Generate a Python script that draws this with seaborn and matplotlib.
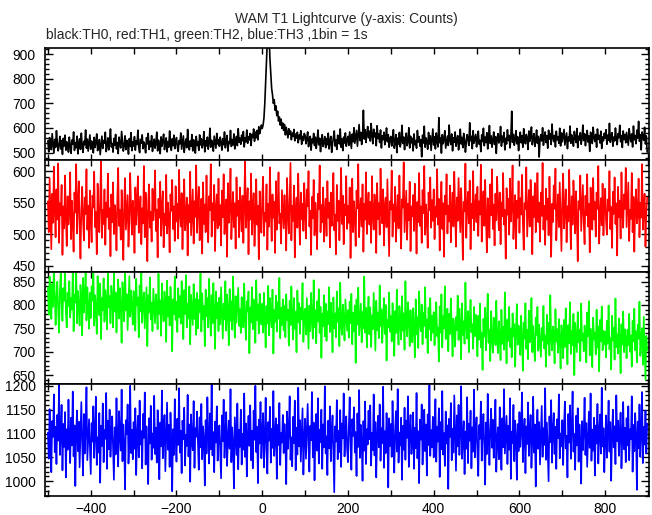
import numpy as np
import pandas as pd
import matplotlib
matplotlib.use("Agg")
import matplotlib.pyplot as plt
import seaborn as sns
from matplotlib.ticker import MultipleLocator

# time sampling of the transcribed light curves (seconds)
T_START = -500
BIN = 2

title = "WAM T1 Lightcurve (y-axis: Counts)"
subtitle = "black:TH0, red:TH1, green:TH2, blue:TH3 ,1bin = 1s"

th0 = [
    548, 503, 561, 529, 512, 577, 536, 498, 554, 521, 589, 540, 507, 532, 566, 515, 549, 493, 558, 527, 571, 510, 544, 536, 502,
    563, 525, 497, 551, 534, 584, 509, 541, 520, 567, 495, 538, 556, 513, 579, 527, 501, 546, 532, 592, 518, 555, 506, 539, 572,
    514, 547, 530, 499, 562, 521, 543, 576, 508, 535, 553, 492, 528, 567, 517, 549, 538, 583, 504, 526, 560, 511, 545, 596, 523,
    537, 502, 558, 529, 574, 515, 541, 496, 563, 532, 519, 586, 547, 506, 530, 568, 512, 550, 539, 494, 557, 525, 581, 508, 544,
    527, 565, 510, 548, 533, 591, 520, 500, 554, 538, 572, 516, 543, 529, 499, 561, 535, 578, 513, 546, 524, 569, 505, 537, 555,
    518, 540, 583, 507, 551, 531, 496, 564, 526, 548, 575, 512, 539, 560, 503, 545, 522, 588, 534, 509, 556, 528, 571, 516, 542,
    561, 523, 505, 549, 536, 580, 514, 542, 568, 501, 533, 555, 520, 594, 538, 511, 547, 526, 573, 507, 552, 535, 498, 566, 529,
    545, 509, 572, 531, 556, 519, 540, 585, 503, 548, 527, 563, 514, 537, 599, 522, 550, 532, 506, 567, 541, 518, 578, 535, 553,
    526, 563, 541, 510, 557, 532, 584, 519, 548, 570, 506, 544, 537, 590, 525, 553, 531, 576, 515, 549, 566, 528, 597, 542, 559,
    534, 571, 548, 586, 523, 560, 544, 592, 538, 565, 552, 578, 529, 574, 561, 596, 546, 583, 560, 590, 552, 605, 577, 593, 612,
    598, 612, 640, 700, 790, 870, 960, 945, 980, 880, 820, 760, 735, 700, 715, 672, 690, 650, 668, 628, 645, 612, 636, 598, 620,
    590, 614, 572, 603, 581, 560, 597, 574, 588, 552, 579, 566, 594, 548, 575, 559, 583, 540, 571, 556, 589, 534, 566, 549, 578,
    570, 536, 558, 584, 524, 551, 566, 510, 555, 540, 578, 529, 563, 517, 546, 592, 532, 558, 504, 550, 573, 525, 541, 565, 520,
    557, 532, 579, 515, 548, 566, 501, 537, 560, 588, 527, 552, 513, 571, 544, 535, 596, 522, 556, 508, 563, 539, 580, 526, 551,
    566, 529, 584, 552, 517, 575, 544, 601, 538, 563, 590, 526, 571, 614, 549, 582, 533, 567, 672, 555, 593, 541, 578, 606, 560,
    587, 547, 618, 569, 536, 595, 564, 580, 528, 609, 557, 575, 541, 592, 519, 568, 553, 583, 532, 562, 600, 544, 573, 522, 558,
    566, 527, 554, 593, 518, 541, 573, 500, 559, 535, 582, 523, 548, 611, 537, 563, 512, 556, 579, 528, 545, 601, 519, 567, 540,
    558, 507, 576, 532, 549, 518, 590, 543, 565, 526, 553, 483, 571, 539, 607, 522, 560, 546, 514, 582, 535, 568, 509, 554, 596,
    531, 564, 515, 580, 548, 523, 642, 540, 559, 498, 573, 536, 555, 589, 518, 544, 567, 529, 612, 551, 533, 576, 507, 560, 542,
    584, 526, 552, 569, 511, 543, 595, 535, 562, 520, 578, 554, 502, 541, 573, 557, 529, 621, 548, 566, 516, 589, 538, 555, 574,
    523, 560, 587, 534, 550, 504, 572, 545, 599, 528, 563, 541, 581, 515, 556, 610, 537, 568, 522, 551, 584, 533, 565, 497, 559,
    577, 539, 552, 606, 526, 567, 544, 582, 511, 558, 535, 593, 549, 570, 519, 561, 668, 542, 574, 530, 553, 589, 536, 564, 508,
    555, 583, 540, 569, 522, 597, 551, 536, 574, 560, 513, 588, 546, 565, 604, 532, 558, 577, 525, 549, 592, 538, 566, 482, 554,
    573, 547, 601, 530, 562, 584, 541, 568, 518, 591, 555, 576, 533, 616, 559, 545, 570, 523, 587, 552, 564, 538, 599, 527, 580,
    544, 569, 594, 531, 557, 580, 516, 563, 547, 608, 538, 572, 553, 526, 586, 560, 541, 598, 520, 567, 551, 581, 534, 559, 612,
    549, 576, 528, 562, 590, 543, 568, 505, 583, 556, 537, 603, 561, 545, 574, 522, 596, 554, 570, 539, 587, 517, 564, 548, 579,
    558, 593, 534, 571, 550, 619, 542, 566, 581, 526, 563, 548, 600, 555, 532, 577, 560, 611, 544, 569, 521, 588, 553, 574, 540,
    582, 557, 530, 597, 565, 544, 576, 523, 608, 552, 569, 536, 591, 559, 627, 546, 573, 511, 584, 562, 550, 603, 535, 568, 502,
]

th1 = [
    552, 503, 589, 531, 476, 564, 518, 607, 540, 495, 571, 523, 612, 486, 549, 530, 578, 467, 544, 509, 593, 526, 481, 560, 515,
    537, 598, 492, 553, 520, 472, 566, 534, 611, 501, 547, 584, 513, 461, 539, 575, 522, 490, 558, 532, 603, 507, 545, 478, 569,
    525, 487, 561, 542, 599, 511, 535, 468, 580, 529, 503, 556, 619, 494, 538, 516, 571, 483, 550, 527, 596, 508, 541, 465, 563,
    519, 582, 500, 546, 530, 474, 557, 605, 513, 538, 491, 570, 524, 459, 548, 589, 507, 533, 562, 480, 521, 597, 544, 499, 553,
    536, 470, 574, 515, 551, 592, 502, 528, 560, 484, 541, 517, 608, 495, 566, 531, 457, 549, 579, 510, 535, 488, 572, 522, 545,
    601, 505, 539, 463, 556, 526, 583, 497, 543, 568, 479, 532, 514, 594, 501, 550, 525, 471, 563, 537, 586, 508, 544, 489, 576,
    520, 548, 493, 602, 533, 512, 565, 476, 541, 587, 506, 529, 558, 466, 546, 519, 599, 498, 537, 571, 485, 552, 527, 609, 502,
    543, 575, 490, 531, 556, 469, 582, 516, 547, 503, 593, 524, 487, 560, 538, 611, 496, 549, 522, 578, 473, 540, 563, 509, 588,
    514, 546, 482, 569, 527, 595, 500, 538, 555, 464, 581, 518, 543, 604, 492, 533, 567, 511, 549, 477, 590, 529, 553, 495, 574,
    535, 504, 561, 486, 547, 616, 510, 539, 573, 468, 552, 523, 596, 499, 541, 565, 481, 530, 587, 515, 545, 460, 568, 527, 502,
    558, 591, 497, 534, 520, 579, 475, 548, 512, 606, 538, 489, 563, 526, 551, 470, 584, 507, 543, 598, 517, 532, 485, 570, 541,
    509, 562, 528, 474, 589, 536, 501, 554, 613, 490, 545, 521, 577, 463, 539, 558, 510, 596, 530, 483, 566, 524, 548, 505, 581,
    533, 493, 571, 544, 600, 512, 537, 467, 559, 525, 586, 498, 550, 529, 476, 564, 540, 609, 503, 546, 519, 574, 488, 535, 556,
    497, 584, 526, 550, 479, 566, 513, 542, 597, 506, 531, 468, 578, 521, 553, 490, 539, 605, 516, 561, 484, 547, 530, 592, 508,
    545, 518, 574, 462, 537, 588, 503, 552, 527, 481, 569, 541, 611, 495, 534, 557, 512, 579, 472, 548, 523, 598, 500, 540, 566,
    515, 551, 486, 592, 530, 507, 563, 543, 470, 581, 524, 549, 499, 604, 536, 517, 571, 482, 545, 558, 511, 587, 528, 465, 552,
    539, 601, 496, 547, 520, 575, 488, 531, 562, 509, 593, 526, 477, 555, 542, 614, 503, 537, 569, 491, 548, 522, 583, 473, 544,
    528, 562, 505, 580, 536, 469, 551, 519, 597, 513, 544, 486, 570, 533, 608, 499, 547, 525, 478, 566, 538, 590, 510, 554, 521,
    571, 492, 543, 527, 603, 515, 556, 474, 537, 583, 508, 549, 464, 561, 532, 595, 501, 545, 520, 577, 487, 540, 566, 512, 599,
    534, 480, 558, 521, 589, 546, 503, 573, 529, 459, 551, 536, 612, 494, 542, 567, 517, 585, 476, 548, 525, 600, 506, 539, 563,
    519, 575, 497, 552, 531, 610, 488, 544, 568, 513, 586, 524, 471, 557, 538, 494, 579, 530, 603, 508, 547, 482, 564, 522, 591,
    543, 506, 566, 484, 550, 528, 597, 515, 538, 461, 573, 531, 556, 499, 588, 520, 545, 609, 492, 535, 562, 477, 553, 526, 584,
    502, 557, 531, 594, 518, 475, 549, 540, 606, 496, 533, 570, 512, 586, 545, 468, 560, 527, 581, 503, 541, 597, 519, 550, 488,
    566, 529, 613, 507, 545, 483, 572, 523, 556, 498, 591, 535, 464, 548, 519, 577, 540, 604, 490, 531, 563, 511, 582, 527, 473,
    553, 596, 509, 538, 571, 487, 544, 520, 602, 532, 476, 560, 515, 585, 547, 501, 568, 526, 457, 552, 539, 593, 505, 543, 578,
    518, 484, 561, 530, 595, 512, 548, 471, 574, 536, 507, 589, 523, 551, 496, 566, 540, 608, 485, 529, 557, 514, 580, 498, 546,
    572, 521, 499, 555, 537, 600, 508, 543, 478, 567, 532, 590, 516, 549, 466, 575, 527, 553, 493, 598, 534, 510, 563, 540, 605,
    511, 546, 582, 489, 538, 524, 597, 503, 559, 472, 544, 571, 517, 530, 588, 495, 550, 526, 611, 507, 541, 564, 480, 535, 558,
]

th2 = [
    838, 779, 861, 812, 770, 845, 796, 883, 824, 757, 817, 850, 788, 741, 829, 872, 801, 766, 836, 809, 877, 783, 752, 826, 798,
    851, 773, 815, 790, 868, 744, 822, 806, 879, 761, 830, 797, 756, 843, 812, 735, 858, 784, 819, 871, 767, 838, 801, 749, 826,
    772, 840, 809, 883, 756, 821, 794, 738, 862, 803, 778, 846, 727, 815, 789, 857, 764, 832, 808, 748, 876, 795, 819, 761, 841,
    813, 752, 868, 786, 827, 741, 803, 855, 771, 836, 796, 719, 849, 810, 765, 881, 789, 823, 746, 804, 862, 775, 831, 797, 758,
    830, 778, 745, 856, 799, 816, 731, 842, 786, 870, 762, 809, 827, 750, 793, 838, 712, 821, 784, 859, 769, 805, 744, 835, 797,
    761, 823, 796, 748, 867, 781, 810, 734, 846, 790, 765, 829, 802, 721, 852, 775, 818, 756, 839, 793, 701, 812, 780, 861, 768,
    807, 742, 836, 774, 819, 760, 851, 795, 727, 832, 781, 864, 752, 803, 771, 840, 716, 822, 788, 757, 845, 770, 813, 736, 826,
    750, 811, 784, 868, 743, 825, 769, 798, 712, 833, 776, 815, 752, 856, 790, 734, 821, 761, 847, 781, 706, 829, 772, 805, 744,
    816, 759, 838, 781, 728, 803, 769, 851, 745, 822, 790, 714, 834, 766, 808, 747, 861, 783, 730, 819, 762, 798, 837, 755, 791,
    740, 817, 779, 752, 846, 771, 725, 808, 786, 829, 697, 795, 763, 838, 748, 812, 776, 719, 853, 767, 801, 739, 824, 784, 758,
    803, 741, 826, 772, 709, 798, 760, 841, 735, 815, 777, 752, 833, 696, 789, 764, 820, 743, 806, 771, 858, 729, 794, 757, 812,
    746, 798, 731, 823, 768, 790, 713, 809, 757, 840, 772, 726, 815, 749, 786, 699, 831, 763, 804, 738, 794, 770, 847, 721, 782,
    792, 737, 815, 761, 706, 799, 744, 826, 770, 728, 853, 752, 789, 718, 808, 765, 834, 740, 796, 687, 781, 755, 821, 733, 803,
    723, 786, 759, 838, 742, 805, 771, 699, 816, 750, 782, 731, 829, 764, 793, 712, 848, 757, 736, 801, 769, 724, 812, 778, 745,
    789, 730, 807, 761, 824, 716, 783, 744, 799, 676, 812, 758, 837, 735, 771, 803, 720, 785, 750, 861, 741, 794, 709, 776, 818,
    737, 795, 710, 778, 748, 826, 763, 702, 809, 746, 784, 729, 842, 755, 791, 719, 773, 815, 738, 800, 681, 768, 752, 827, 743,
    776, 722, 804, 759, 691, 787, 740, 833, 751, 715, 798, 766, 726, 819, 745, 782, 704, 851, 757, 733, 806, 771, 712, 789, 748,
    720, 793, 751, 688, 812, 737, 774, 708, 829, 762, 744, 801, 716, 783, 755, 838, 730, 769, 697, 794, 748, 815, 724, 777, 741,
    785, 714, 768, 806, 733, 752, 679, 797, 741, 823, 709, 776, 750, 840, 727, 763, 792, 701, 781, 738, 814, 756, 690, 771, 745,
    711, 774, 746, 820, 725, 792, 757, 684, 803, 736, 765, 717, 848, 752, 728, 787, 699, 770, 811, 742, 759, 706, 796, 733, 779,
    748, 690, 777, 726, 803, 709, 741, 661, 770, 732, 794, 703, 758, 824, 719, 746, 680, 787, 730, 698, 773, 751, 714, 809, 725,
    697, 765, 729, 682, 790, 717, 753, 704, 827, 738, 675, 769, 723, 796, 710, 750, 688, 782, 733, 759, 668, 744, 802, 715, 756,
    740, 693, 777, 723, 659, 762, 728, 804, 706, 747, 684, 788, 720, 731, 815, 699, 755, 712, 680, 773, 736, 796, 702, 758, 725,
    689, 751, 724, 798, 707, 735, 668, 779, 717, 762, 692, 821, 729, 703, 754, 740, 675, 791, 722, 748, 698, 770, 727, 664, 757,
    735, 686, 768, 710, 793, 728, 673, 757, 718, 806, 695, 744, 714, 781, 650, 762, 731, 699, 785, 720, 747, 680, 803, 724, 739,
    701, 756, 720, 677, 784, 733, 808, 692, 749, 715, 667, 773, 726, 741, 694, 790, 709, 754, 658, 768, 722, 797, 703, 745, 716,
    743, 688, 766, 717, 799, 705, 729, 662, 777, 724, 751, 683, 814, 710, 737, 696, 771, 728, 654, 759, 715, 786, 699, 748, 725,
    686, 747, 714, 781, 700, 735, 668, 766, 722, 792, 703, 744, 677, 758, 728, 807, 691, 725, 750, 672, 775, 711, 640, 734, 703,
]

th3 = [
    1102, 1047, 1151, 1078, 1019, 1126, 1093, 1182, 1061, 1114, 1036, 1139, 1085, 1203, 1055, 1097, 1160, 1023, 1120, 1072, 1145, 1008, 1109, 1066, 1171,
    1090, 1038, 1133, 1075, 1188, 1052, 1117, 990, 1104, 1148, 1063, 1125, 1029, 1096, 1166, 1081, 1012, 1141, 1058, 1110, 1197, 1044, 1087, 1130, 1069,
    1015, 1122, 1083, 1157, 1049, 1101, 1177, 1034, 1092, 1060, 1143, 997, 1116, 1074, 1163, 1040, 1107, 1089, 1185, 1026, 1127, 1067, 1150, 1051, 1098,
    1136, 1071, 1003, 1113, 1056, 1174, 1088, 1031, 1147, 1095, 1064, 1192, 1042, 1119, 1078, 983, 1128, 1099, 1161, 1037, 1084, 1200, 1059, 1108, 1046,
    1124, 1068, 1153, 1013, 1094, 1137, 1050, 1169, 1077, 1105, 1027, 1141, 1091, 1186, 1035, 1115, 1062, 994, 1132, 1079, 1158, 1045, 1100, 1070, 1179,
    1057, 1112, 1039, 1149, 1086, 1004, 1123, 1073, 1190, 1048, 1101, 1139, 1021, 1094, 1165, 1066, 1118, 1030, 1144, 1082, 979, 1109, 1055, 1172, 1092,
    1041, 1131, 1076, 1195, 1060, 1106, 1017, 1127, 1088, 1154, 1033, 1097, 1074, 1181, 1052, 1119, 999, 1140, 1083, 1065, 1168, 1028, 1111, 1093, 1146,
    1080, 1024, 1134, 1071, 1162, 1046, 1115, 1089, 991, 1128, 1058, 1176, 1098, 1037, 1142, 1067, 1204, 1054, 1103, 1019, 1125, 1081, 1157, 1043, 1095,
    1117, 1062, 1006, 1138, 1084, 1171, 1049, 1102, 1145, 1032, 1091, 1127, 1068, 1193, 1040, 1113, 1077, 985, 1134, 1096, 1055, 1163, 1025, 1108, 1072,
    1150, 1035, 1099, 1066, 1184, 1051, 1121, 1010, 1093, 1137, 1074, 1159, 1044, 1106, 1027, 1148, 1087, 1200, 1061, 1114, 996, 1129, 1079, 1166, 1048,
    1103, 1143, 1029, 1090, 1175, 1063, 1016, 1124, 1085, 1156, 1039, 1110, 1070, 1189, 1053, 1097, 1132, 1005, 1118, 1076, 1164, 1034, 1101, 1081, 1139,
    1059, 1120, 1087, 994, 1146, 1068, 1107, 1178, 1045, 1092, 1031, 1135, 1080, 1169, 1023, 1112, 1056, 1196, 1073, 1128, 1041, 1099, 1153, 1014, 1089,
    1131, 1047, 1104, 1162, 1075, 1020, 1116, 1086, 1187, 1050, 1123, 1002, 1097, 1141, 1064, 1174, 1037, 1108, 1082, 1150, 1026, 1119, 1071, 1199, 1058,
    1094, 1013, 1127, 1069, 1157, 1042, 1100, 1138, 1057, 977, 1115, 1083, 1170, 1046, 1106, 1061, 1149, 1030, 1121, 1090, 1184, 1052, 1098, 1136, 1067,
    1040, 1113, 1176, 1078, 1024, 1130, 1095, 1155, 1060, 1103, 1011, 1142, 1072, 1191, 1049, 1118, 1085, 1001, 1126, 1064, 1167, 1036, 1109, 1077, 1148,
    1088, 1159, 1033, 1101, 1065, 1182, 1054, 1124, 1008, 1096, 1137, 1071, 1161, 1043, 1111, 1080, 1198, 1028, 1105, 1059, 1143, 1092, 987, 1132, 1074,
    1120, 1051, 1168, 1086, 1018, 1109, 1147, 1062, 1193, 1039, 1102, 1075, 1133, 1003, 1116, 1066, 1154, 1045, 1127, 1091, 1178, 1030, 1099, 1139, 1057,
    1081, 1144, 1026, 1112, 1069, 1185, 1048, 1105, 996, 1129, 1087, 1161, 1035, 1098, 1150, 1063, 1119, 1012, 1140, 1076, 1202, 1053, 1107, 1071, 1135,
    1050, 1098, 1172, 1041, 1114, 1083, 1153, 1009, 1124, 1067, 1189, 1056, 1101, 1032, 1146, 1079, 1117, 984, 1131, 1093, 1164, 1044, 1110, 1060, 1180,
    1097, 1022, 1138, 1073, 1160, 1055, 1106, 1199, 1047, 1090, 1126, 1015, 1104, 1068, 1176, 1038, 1121, 1085, 1148, 1027, 1113, 1062, 1192, 1050, 1102,
    1134, 1061, 1011, 1118, 1089, 1167, 1043, 1100, 1141, 1074, 993, 1123, 1057, 1183, 1095, 1034, 1110, 1152, 1070, 1129, 1049, 1106, 1171, 1020, 1087,
    1113, 1046, 1155, 1084, 1024, 1132, 1071, 1193, 1058, 1099, 1137, 1036, 1116, 1066, 1174, 1005, 1104, 1080, 1160, 1042, 1127, 1092, 1003, 1120, 1063,
    1145, 1072, 1108, 1186, 1040, 1097, 1131, 1017, 1115, 1078, 1165, 1053, 1102, 1139, 1028, 1088, 1177, 1060, 1119, 989, 1105, 1150, 1068, 1124, 1035,
    1093, 1158, 1051, 1111, 1076, 1195, 1045, 1123, 1064, 1000, 1136, 1082, 1170, 1039, 1107, 1143, 1057, 1114, 1026, 1130, 1090, 1182, 1048, 1100, 1073,
    1128, 1034, 1116, 1167, 1069, 1095, 1008, 1141, 1081, 1159, 1047, 1112, 1188, 1062, 1099, 1024, 1137, 1075, 1153, 1041, 1119, 1085, 995, 1126, 1065,
    1104, 1175, 1055, 1122, 1030, 1091, 1146, 1070, 1184, 1043, 1108, 1064, 1133, 1012, 1117, 1079, 1162, 1037, 1100, 1140, 1058, 1196, 1073, 1111, 1019,
    1086, 1138, 1049, 1103, 1169, 1062, 1124, 1001, 1097, 1150, 1071, 1115, 1036, 1180, 1084, 1127, 1053, 1105, 1144, 1027, 1092, 1166, 1067, 1112, 1040,
    1132, 1075, 1157, 1044, 1109, 1088, 1178, 1020, 1118, 1063, 1143, 1096, 982, 1125, 1069, 1161, 1051, 1101, 1187, 1038, 1114, 1077, 1148, 1058, 1121,
]

series = [th0, th1, th2, th3]
colors = ["black", "red", "#00ff00", "blue"]
ylims = [(471, 926), (440, 618), (631, 871), (969, 1204)]
ymajor = [100, 50, 50, 50]
yminor = [20, 10, 10, 10]

sns.set_style("ticks")
plt.rcParams["font.family"] = ["Liberation Sans", "DejaVu Sans"]

fig, axes = plt.subplots(4, 1, figsize=(6.52, 5.15), dpi=100, sharex=True)
fig.subplots_adjust(left=0.0695, right=0.9959, top=0.9074, bottom=0.0369, hspace=0)

for ax, vals, col, yl, ymj, ymn in zip(axes, series, colors, ylims, ymajor, yminor):
    df = pd.DataFrame({"time": T_START + BIN * np.arange(len(vals)), "counts": vals})
    sns.lineplot(data=df, x="time", y="counts", ax=ax, color=col, linewidth=1.2,
                 estimator=None, sort=False)
    ax.set_xlim(-506, 903)
    ax.set_ylim(*yl)
    ax.set_xlabel("")
    ax.set_ylabel("")
    ax.xaxis.set_major_locator(MultipleLocator(200))
    ax.xaxis.set_minor_locator(MultipleLocator(100))
    ax.yaxis.set_major_locator(MultipleLocator(ymj))
    ax.yaxis.set_minor_locator(MultipleLocator(ymn))
    ax.tick_params(axis="both", which="both", direction="in", top=True, right=True,
                   colors="black", width=1.0)
    ax.tick_params(axis="y", which="major", length=5.5, labelsize=10, pad=7)
    ax.tick_params(axis="y", which="minor", length=3)
    ax.tick_params(axis="x", which="both", length=4, labelsize=10, pad=4)
    for sp in ax.spines.values():
        sp.set_linewidth(1.2)
        sp.set_color("black")
    ax.set_facecolor("white")

fig.text(0.532, 1 - 18.5 / 515, title, ha="center", va="center", fontsize=10)
fig.text(46.5 / 652, 1 - 35 / 515, subtitle, ha="left", va="center", fontsize=10)

fig.savefig("out.png", dpi=100, facecolor="white")
